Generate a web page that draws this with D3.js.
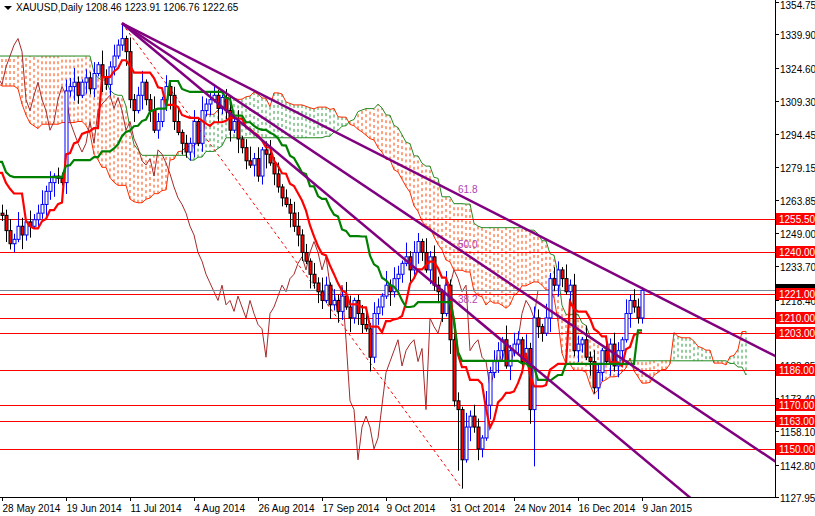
<!DOCTYPE html>
<html><head><meta charset="utf-8">
<script src="https://cdn.jsdelivr.net/npm/d3@7"></script>
<style>body{margin:0;background:#fff}svg{font-family:"Liberation Sans",Arial,sans-serif}</style>
</head><body><svg id="c" width="815" height="516"></svg>
<script>
// closes before 28 May 2014 (off-screen history, used by the indicator)
const preCloses=[1380,1370,1350,1335,1330,1320,1295,1285,
1280,1285,1290,1295,1300,1305,1320,1318,1325,1320,1300,1295,1292,1285,1280,1295,1300,1298,1300,1302,1290,1288,
1294,1288,1290,1292,1295,1300,1302,1305,1295,1290,1295,1293,1290,1288,1290,1265,1260,1258];
const closes=[1257,1250,1244,1246,1252,1248,1254,1252,
1255,1258,1262,1268,1272,1275,1274,
1272,1314,1316,1318,1312,1318,
1320,1315,1322,1326,1320,1317,1325,1330,1335,1338,
1332,1310,1305,1312,1318,
1310,1305,1296,1300,1310,1316,1312,1300,
1295,1290,1286,1290,1300,1290,1305,
1308,1310,1312,1306,1311,1305,1296,
1300,1292,1288,1282,1280,1283,1275,
1287,1285,1281,1276,1270,1265,1262,1258,1252,1248,1240,
1236,1230,1226,1222,1218,1225,1216,1218,1213,1220,
1215,1210,1218,1212,1207,1205,1192,
1212,1215,1220,1225,1222,1228,1230,1235,
1238,1232,1240,1245,1240,1232,1238,1225,
1222,1212,1225,1200,1172,1168,
1145,1160,1165,1160,1150,1155,1170,1185,1190,1195,1200,1188,1195,
1198,1200,1190,1196,1168,1210,1206,
1203,1210,1228,1225,1232,1228,1222,1225,1195,1198,1200,1192,1190,1178,1185,1195,1190,1198,1188,1195,1200,1212,1218,1215,1210,1222.65];
const wickUp="32425314235241324352132415324231523412531423513241523421352413524135241324523142531423541235243152431524315243152431524315243152431524315243152431524315243152431";
const wickDn="24231524132435214253142315243125341524132453142351324152341523142351423152431524315243152431524315243152431524315243152431524315243152431524315243152431524315";
const extremes={30:{h:1345},115:{l:1131.8},133:{l:1142},114:{l:1140},160:{h:1223.91}};
const levels=[1255.5,1240,1221,1210,1203,1186,1170,1163,1150];
const tickVals=[1354.75,1339.90,1324.60,1309.30,1294.45,1279.15,1263.85,1249.00,1233.70,1218.40,1203.55,1188.25,1173.40,1158.10,1142.80,1127.95];
const lastPrice=1222.65;
const trendEnds=[[193,1192.8],[193,1144.6],[172,1127.7]];
const peak=[30,1345], trough=[115,1131.8];
const fibs=[61.8,50.0,38.2];

const P=preCloses.length;
const all=preCloses.concat(closes);
const dates=[];{let d=new Date(2014,4,28);while(dates.length<closes.length){const w=d.getDay();const s=d.getMonth()+"-"+d.getDate();if(w>0&&w<6&&s!=="11-25"&&s!=="0-1")dates.push(new Date(d));d.setDate(d.getDate()+1);}}
const bars=all.map((c,k)=>{const i=k-P;const o=k?all[k-1]:c;const wu=i>=0?(+wickUp[i]||2):3,wd=i>=0?(+wickDn[i]||2):3;
 let h=Math.max(o,c)+wu*1.3,l=Math.min(o,c)-wd*1.3;
 if(extremes[i]){if(extremes[i].h)h=extremes[i].h;if(extremes[i].l)l=extremes[i].l;}return{o,h,l,c,i};});

const W=775,H=497;
const x=d3.scaleLinear().domain([0,1]).range([2,6]);
const y=d3.scaleLinear().domain([1127.95,1354.75]).range([497,2]);
const svg=d3.select("#c");
svg.append("defs").append("clipPath").attr("id","cl").append("rect").attr("width",W).attr("height",H);
const g=svg.append("g").attr("clip-path","url(#cl)");

function mid(k,p){const s=bars.slice(Math.max(0,k-p+1),k+1);return (d3.max(s,b=>b.h)+d3.min(s,b=>b.l))/2;}
const ten=bars.map((b,k)=>[b.i,mid(k,9)]),kij=bars.map((b,k)=>[b.i,mid(k,26)]);
const spA=bars.map((b,k)=>[b.i+26,(ten[k][1]+kij[k][1])/2]),spB=bars.map((b,k)=>[b.i+26,mid(k,52)]);
const chik=bars.map(b=>[b.i-26,b.c]);
spA.forEach((a,k)=>{if(a[0]<0)return;const b=spB[k];g.append("line").attr("x1",x(a[0])).attr("x2",x(a[0])).attr("y1",y(a[1])).attr("y2",y(b[1]))
 .attr("stroke",a[1]>=b[1]?"#2e9b3e":"#ff4500").attr("stroke-width",1).attr("stroke-dasharray","3,3");});
const ln=d3.line().x(d=>x(d[0])).y(d=>y(d[1]));
g.append("path").datum(spA).attr("d",ln).attr("fill","none").attr("stroke","#ff2a00").attr("stroke-width",1);
g.append("path").datum(spB).attr("d",ln).attr("fill","none").attr("stroke","#228b22").attr("stroke-width",1);
g.append("path").datum(chik).attr("d",ln).attr("fill","none").attr("stroke","#a52a2a").attr("stroke-width",1);

levels.forEach(v=>g.append("line").attr("x1",0).attr("x2",W).attr("y1",Math.round(y(v))+.5).attr("y2",Math.round(y(v))+.5).attr("stroke","#ff0000"));
g.append("line").attr("x1",0).attr("x2",W).attr("y1",Math.round(y(lastPrice))+.5).attr("y2",Math.round(y(lastPrice))+.5).attr("stroke","#778899");
g.append("line").attr("x1",x(peak[0])).attr("y1",y(peak[1])).attr("x2",x(trough[0])).attr("y2",y(trough[1])).attr("stroke","#ff0000").attr("stroke-dasharray","3,3");

bars.forEach(b=>{if(b.i<0)return;const cx=Math.round(x(b.i))+.5,up=b.c>=b.o;
 g.append("line").attr("x1",cx).attr("x2",cx).attr("y1",y(b.h)).attr("y2",y(b.l)).attr("stroke",up?"#0000ff":"#000");
 const t=y(Math.max(b.o,b.c)),bt=y(Math.min(b.o,b.c));
 g.append("rect").attr("x",cx-1.5).attr("width",3).attr("y",t).attr("height",Math.max(1,bt-t)).attr("fill",up?"#fff":"#ff0000").attr("stroke",up?"#0000ff":"#000").attr("stroke-width",1);});

g.append("path").datum(ten).attr("d",ln).attr("fill","none").attr("stroke","#ff0000").attr("stroke-width",2.2);
g.append("path").datum(kij).attr("d",ln).attr("fill","none").attr("stroke","#008000").attr("stroke-width",2.2);

trendEnds.forEach(e=>{const s=(e[1]-peak[1])/(e[0]-peak[0]);const xe=210;
 g.append("line").attr("x1",x(peak[0])).attr("y1",y(peak[1])).attr("x2",x(xe)).attr("y2",y(peak[1]+s*(xe-peak[0]))).attr("stroke","#800080").attr("stroke-width",2.5);});
fibs.forEach(f=>{const v=trough[1]+f/100*(peak[1]-trough[1]);g.append("text").attr("x",458).attr("y",y(v)-8).attr("fill","#b040b0").attr("font-size",10).text(f.toFixed(1));});

svg.append("line").attr("x1",W+.5).attr("x2",W+.5).attr("y1",0).attr("y2",H).attr("stroke","#000");
svg.append("line").attr("x1",0).attr("x2",W).attr("y1",H+.5).attr("y2",H+.5).attr("stroke","#000");
tickVals.forEach(v=>{const yy=Math.round(y(v))+.5;svg.append("line").attr("x1",W).attr("x2",W+4).attr("y1",yy).attr("y2",yy).attr("stroke","#000");
 svg.append("text").attr("x",780).attr("y",Math.max(yy+4,9)).attr("font-size",10).attr("fill","#000").text(v.toFixed(2));});
const lab=svg.append("g");
{const yy=Math.round(y(lastPrice));lab.append("rect").attr("x",776).attr("y",yy-6).attr("width",39).attr("height",12).attr("fill","#000");}
levels.forEach(v=>{const yy=Math.round(y(v));lab.append("rect").attr("x",776).attr("y",yy-6).attr("width",39).attr("height",12).attr("fill","#ff0000");
 lab.append("text").attr("x",779).attr("y",yy+4).attr("font-size",10).attr("fill","#fff").text(v.toFixed(2));});
const fmt=d3.timeFormat("%-d %b %Y");
for(let i=0;i<closes.length;i+=16){const xx=Math.round(x(i))+.5;svg.append("line").attr("x1",xx).attr("x2",xx).attr("y1",H).attr("y2",H+4).attr("stroke","#000");
 svg.append("text").attr("x",xx).attr("y",512).attr("font-size",10).text(fmt(dates[i]));}
svg.append("path").attr("d","M4,6L12,6L8,10Z").attr("fill","#000");
svg.append("text").attr("x",16).attr("y",11).attr("font-size",10).text("XAUUSD,Daily  1208.46 1223.91 1206.76 1222.65");
</script></body></html>
